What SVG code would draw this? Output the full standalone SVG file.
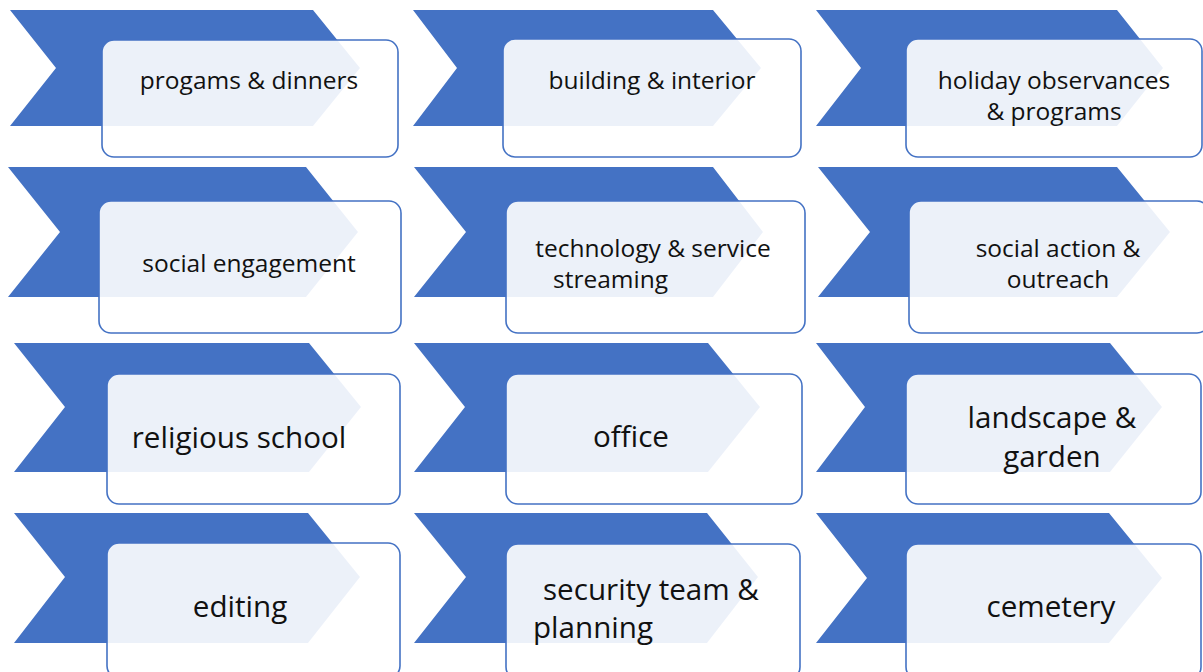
<svg xmlns="http://www.w3.org/2000/svg" width="1203" height="672" viewBox="0 0 1203 672">
<style>
.chev{fill:#4472C4;stroke:none}
.box{fill:#ffffff;fill-opacity:0.9;stroke:#4472C4;stroke-width:1.6}
.t{font-family:"Open Sans","Liberation Sans",sans-serif;fill:#111111;text-anchor:middle}
.s{font-size:24.5px}
.l{font-size:29.6px}
.st{text-anchor:start}
</style>
<rect width="1203" height="672" fill="#ffffff"/>
<g id="node-programs">
<polygon class="chev" points="10,10 313,10 360,68 313,126 10,126 56,68"/>
<rect class="box" x="102" y="40" width="296" height="117" rx="12"/>
<text class="t s" x="249" y="89">progams &amp; dinners</text>
</g>
<g id="node-building">
<polygon class="chev" points="413,10 713,10 761,68 713,126 413,126 457,68"/>
<rect class="box" x="503" y="39" width="298" height="118" rx="12"/>
<text class="t s" x="652" y="89">building &amp; interior</text>
</g>
<g id="node-holiday">
<polygon class="chev" points="816,10 1117,10 1163,68 1117,126 816,126 861,68"/>
<rect class="box" x="906" y="39" width="296" height="118" rx="12"/>
<text class="t s" x="1054" y="89">holiday observances</text>
<text class="t s" x="1054" y="120">&amp; programs</text>
</g>
<g id="node-social-engagement">
<polygon class="chev" points="8,167 306,167 358,232 306,297 8,297 60,232"/>
<rect class="box" x="99" y="201" width="302" height="132" rx="12"/>
<text class="t s" x="249" y="272">social engagement</text>
</g>
<g id="node-technology">
<polygon class="chev" points="414,167 713,167 763,232 713,297 414,297 466,232"/>
<rect class="box" x="506" y="201" width="299" height="132" rx="12"/>
<text class="t s" x="653" y="257">technology &amp; service</text>
<text class="t s st" x="553" y="288">streaming</text>
</g>
<g id="node-social-action">
<polygon class="chev" points="818,167 1117,167 1170,232 1117,297 818,297 870,232"/>
<rect class="box" x="909" y="201" width="300" height="132" rx="12"/>
<text class="t s" x="1058" y="257">social action &amp;</text>
<text class="t s" x="1058" y="288">outreach</text>
</g>
<g id="node-religious-school">
<polygon class="chev" points="14,343 309,343 361,407 309,472 14,472 65,407"/>
<rect class="box" x="107" y="374" width="293" height="130" rx="12"/>
<text class="t l" x="239" y="448">religious school</text>
</g>
<g id="node-office">
<polygon class="chev" points="414,343 708,343 760,407 708,472 414,472 465,407"/>
<rect class="box" x="506" y="374" width="296" height="130" rx="12"/>
<text class="t l" x="631" y="447">office</text>
</g>
<g id="node-landscape">
<polygon class="chev" points="816,343 1110,343 1162,407 1110,472 816,472 865,407"/>
<rect class="box" x="906" y="374" width="295" height="130" rx="12"/>
<text class="t l" x="1052" y="428">landscape &amp;</text>
<text class="t l" x="1052" y="467">garden</text>
</g>
<g id="node-editing">
<polygon class="chev" points="14,513 308,513 360,577 308,643 14,643 65,577"/>
<rect class="box" x="107" y="543" width="293" height="135" rx="12"/>
<text class="t l" x="240" y="617">editing</text>
</g>
<g id="node-security">
<polygon class="chev" points="414,513 707,513 758,577 707,643 414,643 466,577"/>
<rect class="box" x="506" y="544" width="294" height="135" rx="12"/>
<text class="t l st" x="543" y="600">security team &amp;</text>
<text class="t l st" x="533" y="638">planning</text>
</g>
<g id="node-cemetery">
<polygon class="chev" points="816,513 1109,513 1162,578 1109,643 816,643 867,578"/>
<rect class="box" x="906" y="544" width="295" height="135" rx="12"/>
<text class="t l" x="1051" y="617">cemetery</text>
</g>
<g id="connectors"></g>
</svg>
